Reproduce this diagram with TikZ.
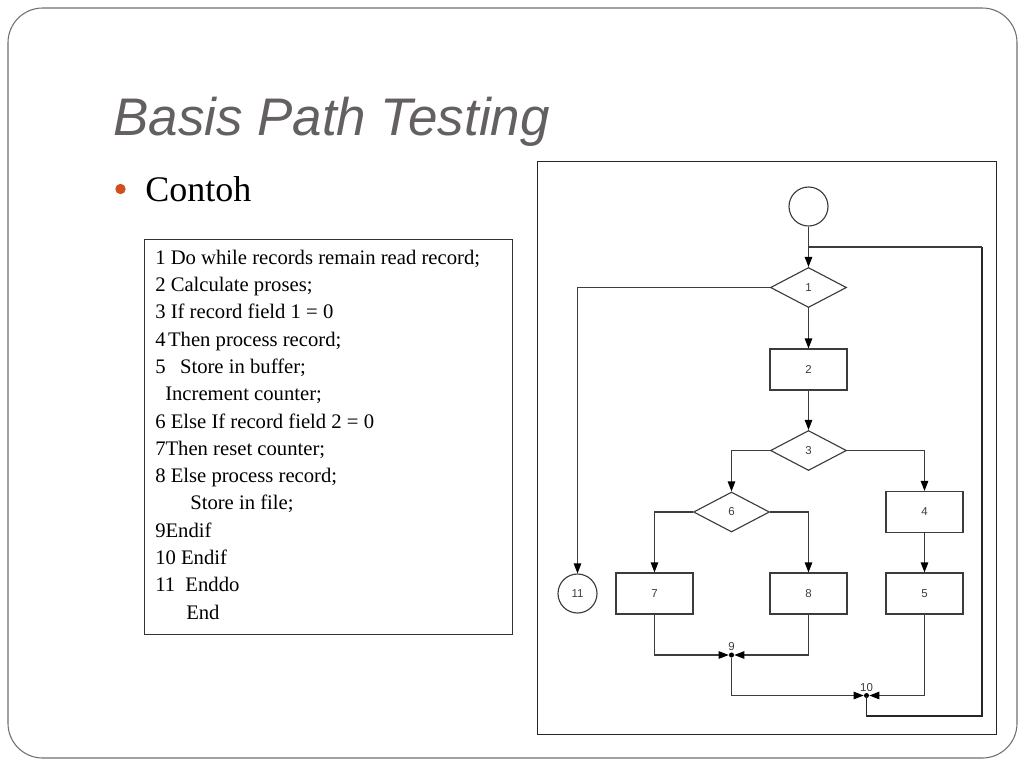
\documentclass[tikz,border=0pt]{standalone}
\usepackage{fontspec}
\setmainfont{Liberation Serif}
\newfontfamily\titlefont{Liberation Sans}
\usetikzlibrary{shapes.geometric,arrows.meta}
\definecolor{titlegray}{RGB}{100,96,96}
\definecolor{bulletred}{RGB}{210,78,30}
\definecolor{framegray}{RGB}{110,110,110}
\definecolor{linegray}{RGB}{60,60,60}
\tikzset{
  codeline/.style={anchor=base west,inner sep=0pt,font=\fontsize{15.5}{18}\selectfont},
  fcnum/.style={font=\titlefont\fontsize{8.6}{9}\selectfont,text=linegray},
  fcbox/.style={draw=linegray,line width=0.85pt,rectangle,minimum width=57.75pt,minimum height=30.75pt,inner sep=0pt,fcnum},
  fcdia/.style={draw=linegray,line width=0.85pt,diamond,minimum width=57pt,minimum height=30pt,inner sep=0pt,fcnum},
  fccirc/.style={draw=linegray,line width=0.85pt,circle,minimum size=29.25pt,inner sep=0pt,fcnum},
  junction/.style={circle,fill=black,inner sep=0pt,minimum size=3.8pt},
  arr/.style={draw=linegray,line width=0.85pt,-{Triangle[length=7.5pt,width=5.6pt,color=black]}},
  loopline/.style={draw=black!85,line width=1.25pt},
  looptop/.style={draw=linegray,line width=0.9pt},
}
\begin{document}
\begin{tikzpicture}[x=0.75pt,y=-0.75pt]
\useasboundingbox (0,0) rectangle (1024,768);
% slide frame
\draw[framegray,line width=0.8pt,rounded corners=26pt] (8,8) rectangle (1017,758);
% title
\node[anchor=base west,inner sep=0pt,text=titlegray,font=\titlefont\itshape\fontsize{39.7}{45}\selectfont] (title) at (113,135) {Basis Path Testing};
% bullet
\node[circle,fill=bulletred,inner sep=0pt,minimum size=7.8pt] (bul) at (120.5,189) {};
\node[anchor=base west,inner sep=0pt,font=\fontsize{27}{30}\selectfont] (contoh) at (145,201) {Contoh};
% code box
\node[draw=black!80,line width=0.8pt,rectangle,minimum width=276pt,minimum height=296.25pt,anchor=north west,inner sep=0pt] (codebox) at (144,239) {};
\node[codeline] (c1) at (155,264.3) {1 Do while records remain read record;};
\node[codeline] (c2) at (155,291.6) {2 Calculate proses;};
\node[codeline] (c3) at (155,318.9) {3 If record field 1 = 0};
\node[codeline] (c4) at (155,346.1) {4\hspace{0.12em}Then process record;};
\node[codeline] (c5) at (155,373.4) {5\hspace{0.7em}Store in buffer;};
\node[codeline] (c6) at (165,400.7) {Increment counter;};
\node[codeline] (c7) at (155,428.0) {6 Else If record field 2 = 0};
\node[codeline] (c8) at (155,455.3) {7Then reset counter;};
\node[codeline] (c9) at (155,482.5) {8 Else process record;};
\node[codeline] (c10) at (190,509.8) {Store in file;};
\node[codeline] (c11) at (155,537.1) {9Endif};
\node[codeline] (c12) at (155,564.4) {10 Endif};
\node[codeline] (c13) at (155,591.7) {11\hspace{0.5em}Enddo};
\node[codeline] (c14) at (186,619.0) {End};
% flowchart frame
\node[draw=black!85,line width=1pt,rectangle,minimum width=344.25pt,minimum height=429.75pt,anchor=north west,inner sep=0pt] (fcframe) at (537,161) {};
% flowchart nodes
\node[fccirc] (s) at (808.5,206.5) {};
\node[fcdia] (d1) at (808.5,287.5) {1};
\node[fcbox] (b2) at (808.5,369.5) {2};
\node[fcdia] (d3) at (808.5,450.5) {3};
\node[fcdia] (d6) at (731.5,512) {6};
\node[fcbox] (b4) at (924.5,512) {4};
\node[fcbox] (b7) at (654.5,593.5) {7};
\node[fcbox] (b8) at (808.5,593.5) {8};
\node[fcbox] (b5) at (924.5,593.5) {5};
\node[fccirc] (c11n) at (577.5,593.5) {11};
\node[junction,label={[fcnum,inner sep=1pt]above:9}] (j9) at (731.5,655) {};
\node[junction,label={[fcnum,inner sep=1pt]above:10}] (j10) at (866.5,695.5) {};
\coordinate (loopBR) at (982,716);
\coordinate (loopTR) at (982,247);
\coordinate (loopT) at (808.5,247);
% connectors
\draw[arr] (s) -- (d1);
\draw[arr] (d1.west) -| (c11n);
\draw[arr] (d1) -- (b2);
\draw[arr] (b2) -- (d3);
\draw[arr] (d3.west) -| (d6);
\draw[arr] (d3.east) -| (b4);
\draw[arr] (d6.west) -| (b7);
\draw[arr] (d6.east) -| (b8);
\draw[arr] (b4) -- (b5);
\draw[arr] (b7) |- (j9);
\draw[arr] (b8) |- (j9);
\draw[arr] (j9) |- (j10);
\draw[arr] (b5) |- (j10);
\draw[loopline] (j10.center) |- (loopBR) -- (loopTR);
\draw[looptop] (loopTR) -- (loopT);
\end{tikzpicture}
\end{document}
